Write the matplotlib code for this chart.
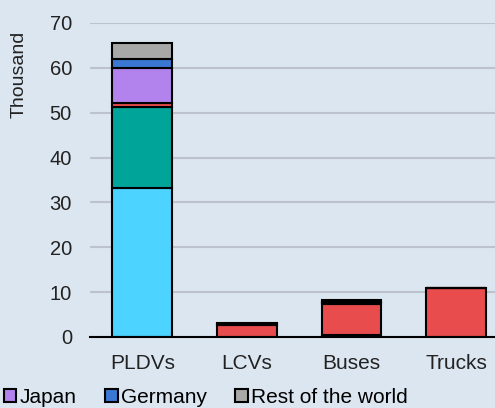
import numpy as np
import matplotlib
matplotlib.use('Agg')
import matplotlib.pyplot as plt
from matplotlib.patches import Patch

plt.rcParams['font.family'] = ['Liberation Sans', 'DejaVu Sans']

categories = ['PLDVs', 'LCVs', 'Buses', 'Trucks']
korea = [33.3, 0.0, 0.4, 0.0]
united_states = [17.9, 0.0, 0.0, 0.0]
china = [1.0, 2.6, 6.9, 10.9]
japan = [7.8, 0.2, 0.3, 0.0]
germany = [2.0, 0.0, 0.2, 0.0]
rest_of_world = [3.5, 0.4, 0.4, 0.0]

series = [
    ('Korea', korea, '#4cd3ff'),
    ('United States', united_states, '#00a499'),
    ('China', china, '#e84c4c'),
    ('Japan', japan, '#b283ec'),
    ('Germany', germany, '#3a78d4'),
    ('Rest of the world', rest_of_world, '#a8a8a8'),
]

bg = '#dce6f0'
txt = '#222222'
fig = plt.figure(figsize=(4.95, 4.08), dpi=100, facecolor=bg)
ax = fig.add_axes([90 / 495, 71 / 408, 405 / 495, 314 / 408], facecolor=bg)

x = np.arange(len(categories))
bottom = np.zeros(len(categories))
for name, vals, col in series:
    vals = np.array(vals)
    ax.bar(x, vals, 0.57, bottom=bottom, color=col, edgecolor='black',
           linewidth=1.5, zorder=3, label=name)
    bottom += vals

ax.set_ylim(0, 70)
ax.set_xlim(-0.5, 3.37)
ax.set_yticks(range(0, 71, 10))
ax.set_xticks(x)
ax.set_xticklabels(categories)
ax.grid(axis='y', color='#bcc3cc', linewidth=1.5, zorder=0)
ax.set_axisbelow(True)
for s in ['top', 'right', 'left']:
    ax.spines[s].set_visible(False)
ax.spines['bottom'].set_color('black')
ax.spines['bottom'].set_linewidth(1.5)
ax.spines['bottom'].set_zorder(4)
ax.tick_params(axis='y', length=0, pad=13, labelsize=14.5, labelcolor=txt)
ax.tick_params(axis='x', length=0, pad=12, labelsize=15, labelcolor=txt)

ax.set_ylabel('Thousand', fontsize=14, color=txt, loc='top')
ax.yaxis.set_label_coords(-0.155, 0.975)

# only the bottom legend row is visible in the reference
handles = [Patch(facecolor=col, edgecolor='black', linewidth=1.5, label=name)
           for name, vals, col in series[3:]]
fig.legend(handles=handles, loc='lower left', bbox_to_anchor=(0.005, 0.0),
           ncol=3, frameon=False, fontsize=15, handlelength=0.62,
           handleheight=0.62, handletextpad=0.15, columnspacing=1.35,
           borderaxespad=0.0, borderpad=0.05)

fig.savefig('out.png', dpi=100, facecolor=bg)
